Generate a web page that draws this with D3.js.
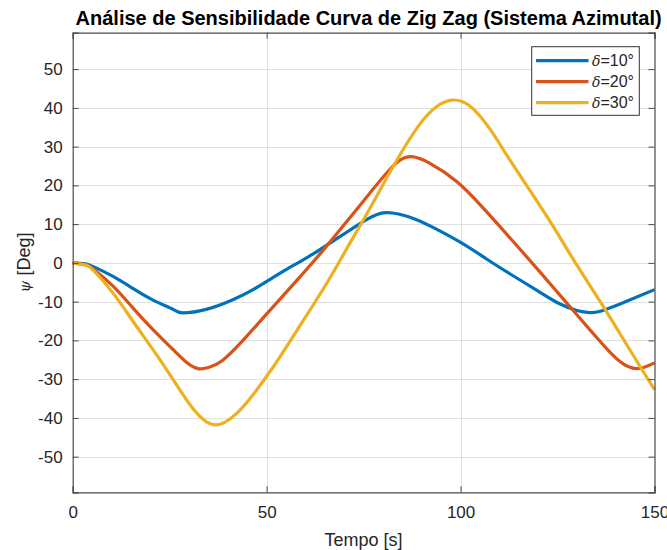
<!DOCTYPE html>
<html>
<head>
<meta charset="utf-8">
<script src="https://cdn.jsdelivr.net/npm/d3@7"></script>
<style>
  html, body { margin: 0; padding: 0; background: #ffffff; }
  svg { display: block; font-family: "Liberation Sans", Arial, Helvetica, sans-serif; }
</style>
</head>
<body>
<svg id="chart" width="667" height="550"></svg>
<script>
// Zig-zag heading response, rudder angle δ = 10°, 20°, 30°
const tDelta10   = [0, 3, 5.2, 10.4, 15.5, 20.7, 25.9, 28.4, 34.4, 41.3, 46.5, 51.6, 57, 62, 68, 72, 76, 80, 84, 88, 92, 99.8, 106.7, 112.7, 120, 125, 130, 133, 136, 142.8, 150];
const psiDelta10 = [0, -0.2, -0.9, -3.5, -6.6, -9.6, -12.0, -12.9, -12.0, -9.5, -6.9, -3.8, -0.6, 2.3, 6.2, 8.8, 11.3, 12.9, 12.6, 11.4, 9.6, 5.4, 1.0, -2.8, -7.3, -10.3, -12.3, -12.8, -12.5, -9.9, -6.9];

const tDelta20   = [0, 3, 5.2, 10.4, 15.5, 20.7, 25.9, 29.5, 32.3, 35, 38.7, 43.9, 48.2, 51.6, 58.6, 64.6, 70.6, 76.6, 83.1, 87.4, 92.1, 99, 105.8, 112.7, 120, 125, 130, 136, 141, 145.5, 150];
const psiDelta20 = [0, -0.4, -1.5, -6.0, -11.6, -17.2, -22.4, -25.8, -27.3, -27.0, -25.1, -20.0, -15.2, -11.4, -3.6, 3.3, 10.6, 18.0, 25.5, 27.4, 25.7, 21.0, 14.2, 6.5, -1.8, -7.6, -13.4, -20.3, -25.4, -27.3, -25.8];

const tDelta30   = [0, 3, 5.2, 10.4, 15.5, 20.7, 25.9, 31, 36.6, 42.2, 46.5, 51.6, 58.6, 65.9, 70.6, 75.8, 83.1, 89.5, 93.8, 97.7, 102.4, 107.6, 112.7, 120, 125, 130, 136, 141, 146.2, 150];
const psiDelta30 = [0, -0.5, -1.8, -7.8, -15.0, -22.4, -30.1, -37.6, -41.8, -38.9, -34.0, -27.0, -16.2, -4.6, 3.6, 12.6, 25.7, 35.8, 40.3, 42.0, 40.5, 34.5, 26.6, 15.5, 7.6, -0.6, -10.0, -18.1, -26.6, -32.7];

const seriesNames  = ["10", "20", "30"];
const seriesColors = ["#0072BD", "#D95319", "#EDB120"];

const xTicks = [0, 50, 100, 150];
const yTicks = [-50, -40, -30, -20, -10, 0, 10, 20, 30, 40, 50];

const titleText  = "Análise de Sensibilidade Curva de Zig Zag (Sistema Azimutal)";
const xLabelText = "Tempo [s]";

const series = [
  { t: tDelta10, v: psiDelta10 },
  { t: tDelta20, v: psiDelta20 },
  { t: tDelta30, v: psiDelta30 }
].map((s, i) => ({
  name: seriesNames[i],
  color: seriesColors[i],
  points: s.t.map((t, j) => ({ t, v: s.v[j] }))
}));

const svg = d3.select("#chart");
const W = 667, H = 550;
svg.append("rect").attr("width", W).attr("height", H).attr("fill", "#ffffff");

const plot = { left: 72.7, right: 654.5, top: 32.7, bottom: 492.3 };

const x = d3.scaleLinear().domain([0, 150]).range([plot.left, plot.right]);
const y = d3.scaleLinear().domain([-59.2, 59.4]).range([plot.bottom, plot.top]);

const axisColor = "#4a4a4a";
const textColor = "#262626";
const gridColor = "#e0e0e0";

// plain hyphen for negative numbers
const numFmt = d => String(d);

// grid
const grid = svg.append("g");
grid.selectAll(".gx").data(xTicks.filter(d => d > 0 && d < 150)).join("line")
  .attr("x1", d => Math.round(x(d)) + 0.5).attr("x2", d => Math.round(x(d)) + 0.5)
  .attr("y1", plot.top).attr("y2", plot.bottom)
  .attr("stroke", gridColor).attr("stroke-width", 1);
grid.selectAll(".gy").data(yTicks).join("line")
  .attr("x1", plot.left).attr("x2", plot.right)
  .attr("y1", d => Math.round(y(d)) + 0.5).attr("y2", d => Math.round(y(d)) + 0.5)
  .attr("stroke", gridColor).attr("stroke-width", 1);

// curves (smooth cubic spline through the sampled headings)
const line = d3.line()
  .x(d => x(d.t))
  .y(d => y(d.v))
  .curve(d3.curveNatural);

svg.append("g").selectAll("path").data(series).join("path")
  .attr("d", d => line(d.points))
  .attr("fill", "none")
  .attr("stroke", d => d.color)
  .attr("stroke-width", 3.2)
  .attr("stroke-linejoin", "round")
  .attr("stroke-linecap", "butt");

// axes: ticks inward on all four sides
const tickLen = 6;
const fontTick = 17;

const axBottom = svg.append("g").attr("transform", `translate(0,${plot.bottom})`)
  .call(d3.axisBottom(x).tickValues(xTicks).tickSize(-tickLen).tickPadding(14).tickFormat(numFmt));
const axTop = svg.append("g").attr("transform", `translate(0,${plot.top})`)
  .call(d3.axisTop(x).tickValues(xTicks).tickSize(-tickLen).tickFormat(""));
const axLeft = svg.append("g").attr("transform", `translate(${plot.left},0)`)
  .call(d3.axisLeft(y).tickValues(yTicks).tickSize(-tickLen).tickPadding(10).tickFormat(numFmt));
const axRight = svg.append("g").attr("transform", `translate(${plot.right},0)`)
  .call(d3.axisRight(y).tickValues(yTicks).tickSize(-tickLen).tickFormat(""));

[axBottom, axTop, axLeft, axRight].forEach(g => {
  g.select(".domain").attr("stroke", axisColor).attr("stroke-width", 1.2);
  g.selectAll(".tick line").attr("stroke", axisColor).attr("stroke-width", 1);
  g.selectAll(".tick text")
    .attr("fill", textColor)
    .style("font-family", '"Liberation Sans", Arial, sans-serif')
    .style("font-size", fontTick + "px");
});
axBottom.selectAll(".tick text").attr("dy", "0.71em");

// title
svg.append("text")
  .attr("x", (plot.left + plot.right) / 2 + 5)
  .attr("y", 25)
  .attr("text-anchor", "middle")
  .attr("fill", "#000000")
  .style("font-size", "20px")
  .style("font-weight", "bold")
  .text(titleText);

// x label
svg.append("text")
  .attr("x", (plot.left + plot.right) / 2)
  .attr("y", 546)
  .attr("text-anchor", "middle")
  .attr("fill", textColor)
  .style("font-size", "18px")
  .text(xLabelText);

// y label: ψ [Deg]
const yl = svg.append("text")
  .attr("transform", `translate(30,${(plot.top + plot.bottom) / 2}) rotate(-90)`)
  .attr("text-anchor", "middle")
  .attr("fill", textColor)
  .style("font-size", "18px");
yl.append("tspan").style("font-style", "italic").style("font-family", '"DejaVu Serif", serif').style("font-size", "15px").text("ψ");
yl.append("tspan").text(" [Deg]");

// legend
const lg = { x: 531.7, y: 46.7, w: 107.6, h: 68.6 };
const legend = svg.append("g");
legend.append("rect")
  .attr("x", lg.x).attr("y", lg.y).attr("width", lg.w).attr("height", lg.h)
  .attr("fill", "#ffffff").attr("stroke", "#333333").attr("stroke-width", 1);

const rowY = [60.7, 81.7, 102.7];
const rows = legend.selectAll(".row").data(series).join("g")
  .attr("transform", (d, i) => `translate(0,${rowY[i]})`);
rows.append("line")
  .attr("x1", 536).attr("x2", 588.5).attr("y1", 0).attr("y2", 0)
  .attr("stroke", d => d.color).attr("stroke-width", 3.2);
const lt = rows.append("text")
  .attr("x", 592).attr("y", 0).attr("dy", "0.35em")
  .attr("fill", textColor)
  .style("font-size", "16px");
lt.append("tspan").style("font-style", "italic").style("font-family", '"DejaVu Serif", serif').style("font-size", "14px").text("δ");
lt.append("tspan").text(d => "=" + d.name + "°");
</script>
</body>
</html>
